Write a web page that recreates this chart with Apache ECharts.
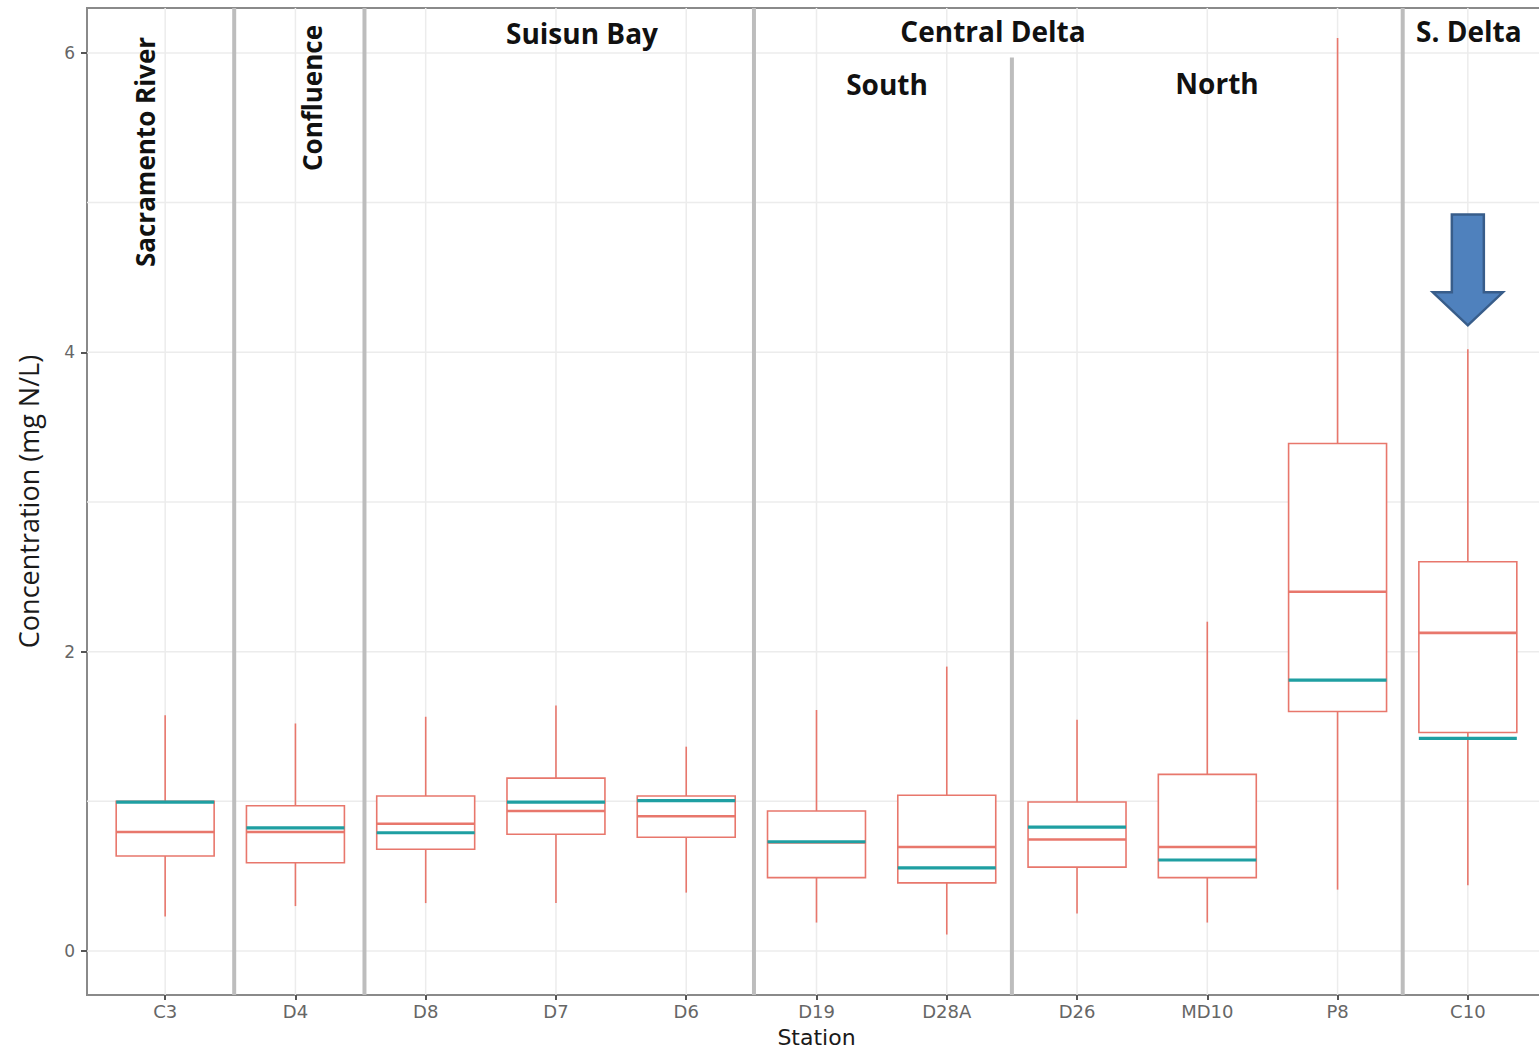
<!DOCTYPE html>
<html>
<head>
<meta charset="utf-8">
<script src="https://cdn.jsdelivr.net/npm/echarts@6/dist/echarts.min.js"></script>
<style>
  html, body { margin: 0; padding: 0; background: #ffffff; }
  #chart { width: 1539px; height: 1048px; }
</style>
</head>
<body>
<div id="chart"></div>
<script>
// Nitrate + nitrite concentration by station (mg N/L)
const stations    = ['C3', 'D4', 'D8', 'D7', 'D6', 'D19', 'D28A', 'D26', 'MD10', 'P8', 'C10'];
const whiskerLow  = [0.23, 0.30, 0.32, 0.32, 0.39, 0.19, 0.11, 0.25, 0.19, 0.41, 0.44];
const lowerQ      = [0.635, 0.59, 0.68, 0.78, 0.76, 0.49, 0.455, 0.56, 0.49, 1.60, 1.46];
const medianA     = [0.795, 0.795, 0.85, 0.935, 0.90, 0.725, 0.695, 0.745, 0.695, 2.40, 2.125];
const upperQ      = [1.00, 0.97, 1.035, 1.155, 1.035, 0.935, 1.04, 0.995, 1.18, 3.39, 2.60];
const whiskerHigh = [1.575, 1.52, 1.565, 1.64, 1.365, 1.61, 1.90, 1.545, 2.20, 6.10, 4.02];
const medianB     = [0.995, 0.822, 0.79, 0.995, 1.005, 0.73, 0.555, 0.828, 0.608, 1.81, 1.42];

const yTickValues  = [0, 2, 4, 6];
const yMinorValues = [1, 3, 5];

// region dividers: x position (station units) and top end (mg N/L)
const dividerX   = [1.53, 2.53, 5.52, 7.5, 10.5];
const dividerTop = [6.3, 6.3, 6.3, 5.97, 6.3];

// arrow over C10: station position, tip value, tail value
const arrowAt = [11, 4.18, 4.92];

const X_MIN = 0.4, X_MAX = 11.6, Y_MIN = -0.294, Y_MAX = 6.30;
const BOX_HALF = 0.376;
const RED = '#e8776c';
const TEAL = '#1f9fa2';
const VERT_FONT = 'bold 26px "Open Sans"';
const HEAD_FONT = 'bold 28px "Open Sans"';

const boxData = stations.map((s, i) => [i + 1, whiskerLow[i], lowerQ[i], medianA[i], upperQ[i], whiskerHigh[i], medianB[i]]);
const gridData = []
  .concat(yTickValues.map(v => ['h', v]))
  .concat(yMinorValues.map(v => ['h', v]))
  .concat(stations.map((s, i) => ['v', i + 1]));
const dividerData = dividerX.map((x, i) => [x, dividerTop[i]]);

const chart = echarts.init(document.getElementById('chart'), null, { renderer: 'svg' });

const option = {
  animation: false,
  backgroundColor: '#ffffff',
  grid: {
    left: 87, right: -7, top: 8, bottom: 53,
    show: true, borderColor: '#8a8a8a', borderWidth: 2, backgroundColor: 'transparent',
    containLabel: false, outerBoundsMode: 'none'
  },
  xAxis: {
    type: 'value', min: X_MIN, max: X_MAX,
    axisLine: { show: false, onZero: false },
    splitLine: { show: false },
    axisTick: { show: true, customValues: stations.map((s, i) => i + 1), length: 5, lineStyle: { color: '#555555', width: 2 } },
    axisLabel: {
      customValues: stations.map((s, i) => i + 1),
      formatter: v => stations[Math.round(v) - 1],
      color: '#666666', fontSize: 18, fontFamily: 'DejaVu Sans', margin: 7
    },
    name: 'Station', nameLocation: 'middle', nameGap: 31,
    nameTextStyle: { fontSize: 22, color: '#1a1a1a', fontFamily: 'DejaVu Sans' }
  },
  yAxis: {
    type: 'value', min: Y_MIN, max: Y_MAX,
    axisLine: { show: false, onZero: false },
    splitLine: { show: false },
    axisTick: { show: true, customValues: yTickValues, length: 6, lineStyle: { color: '#555555', width: 2 } },
    axisLabel: { customValues: yTickValues, color: '#666666', fontSize: 17, fontFamily: 'DejaVu Sans', margin: 12 },
    name: 'Concentration (mg N/L)', nameLocation: 'middle', nameGap: 45,
    nameTextStyle: { fontSize: 27, color: '#1a1a1a', fontFamily: 'Open Sans' }
  },
  series: [
    {
      // background grid lines
      type: 'custom', silent: true, z: 1,
      data: gridData,
      renderItem(params, api) {
        const cs = params.coordSys;
        const kind = gridData[params.dataIndex][0];
        const v = gridData[params.dataIndex][1];
        if (kind === 'h') {
          const y = api.coord([X_MIN, v])[1];
          return { type: 'line', shape: { x1: cs.x, y1: y, x2: cs.x + cs.width, y2: y },
            style: { stroke: '#ececec', lineWidth: 1.5 } };
        }
        const x = api.coord([v, 0])[0];
        return { type: 'line', shape: { x1: x, y1: cs.y, x2: x, y2: cs.y + cs.height },
          style: { stroke: '#ececec', lineWidth: 1.5 } };
      }
    },
    {
      // region dividers
      type: 'custom', silent: true, z: 2,
      data: dividerData,
      renderItem(params, api) {
        const cs = params.coordSys;
        const p = api.coord([api.value(0), api.value(1)]);
        return { type: 'line', shape: { x1: p[0], y1: Math.max(p[1], cs.y), x2: p[0], y2: cs.y + cs.height },
          style: { stroke: '#bdbdbd', lineWidth: 4 } };
      }
    },
    {
      // box plots with second median line
      type: 'custom', z: 3,
      data: boxData,
      encode: { x: 0, y: [1, 5] },
      renderItem(params, api) {
        const x = api.value(0);
        const pl = v => api.coord([x - BOX_HALF, v]);
        const pr = v => api.coord([x + BOX_HALF, v]);
        const pc = v => api.coord([x, v]);
        const lo = pc(api.value(1)), q1 = pc(api.value(2)), q3 = pc(api.value(4)), hi = pc(api.value(5));
        const l1 = pl(api.value(2)), r3 = pr(api.value(4));
        const mL = pl(api.value(3)), mR = pr(api.value(3));
        const bL = pl(api.value(6)), bR = pr(api.value(6));
        return {
          type: 'group',
          children: [
            { type: 'line', shape: { x1: hi[0], y1: hi[1], x2: q3[0], y2: q3[1] }, style: { stroke: RED, lineWidth: 1.6 } },
            { type: 'line', shape: { x1: q1[0], y1: q1[1], x2: lo[0], y2: lo[1] }, style: { stroke: RED, lineWidth: 1.6 } },
            { type: 'rect', shape: { x: l1[0], y: r3[1], width: r3[0] - l1[0], height: l1[1] - r3[1] },
              style: { fill: '#ffffff', stroke: RED, lineWidth: 1.6 } },
            { type: 'line', shape: { x1: mL[0], y1: mL[1], x2: mR[0], y2: mR[1] }, style: { stroke: RED, lineWidth: 2.6 } },
            { type: 'line', shape: { x1: bL[0], y1: bL[1], x2: bR[0], y2: bR[1] }, style: { stroke: TEAL, lineWidth: 3.2 } }
          ]
        };
      }
    },
    {
      // highlight arrow
      type: 'custom', silent: true, z: 5,
      data: [arrowAt],
      renderItem(params, api) {
        const tip = api.coord([api.value(0), api.value(1)]);
        const tail = api.coord([api.value(0), api.value(2)]);
        const bw = 16, hw = 35, hl = 33;
        const cx = tip[0], hb = tip[1] - hl;
        return {
          type: 'polygon',
          shape: { points: [[cx - bw, tail[1]], [cx + bw, tail[1]], [cx + bw, hb], [cx + hw, hb], [cx, tip[1]], [cx - hw, hb], [cx - bw, hb]] },
          style: { fill: '#4f81bd', stroke: '#385d8a', lineWidth: 2.5, lineJoin: 'miter' }
        };
      }
    }
  ],
  graphic: [
    { type: 'text', x: 145, y: 152, rotation: Math.PI / 2, z: 10,
      style: { text: 'Sacramento River', font: VERT_FONT, fill: '#111111', align: 'center', verticalAlign: 'middle' } },
    { type: 'text', x: 312, y: 98, rotation: Math.PI / 2, z: 10,
      style: { text: 'Confluence', font: VERT_FONT, fill: '#111111', align: 'center', verticalAlign: 'middle' } },
    { type: 'text', x: 582, y: 33, z: 10,
      style: { text: 'Suisun Bay', font: HEAD_FONT, fill: '#111111', align: 'center', verticalAlign: 'middle' } },
    { type: 'text', x: 993, y: 31, z: 10,
      style: { text: 'Central Delta', font: HEAD_FONT, fill: '#111111', align: 'center', verticalAlign: 'middle' } },
    { type: 'text', x: 887, y: 84, z: 10,
      style: { text: 'South', font: HEAD_FONT, fill: '#111111', align: 'center', verticalAlign: 'middle' } },
    { type: 'text', x: 1217, y: 83, z: 10,
      style: { text: 'North', font: HEAD_FONT, fill: '#111111', align: 'center', verticalAlign: 'middle' } },
    { type: 'text', x: 1416, y: 31, z: 10,
      style: { text: 'S. Delta', font: HEAD_FONT, fill: '#111111', align: 'left', verticalAlign: 'middle' } }
  ]
};

chart.setOption(option);
</script>
</body>
</html>
